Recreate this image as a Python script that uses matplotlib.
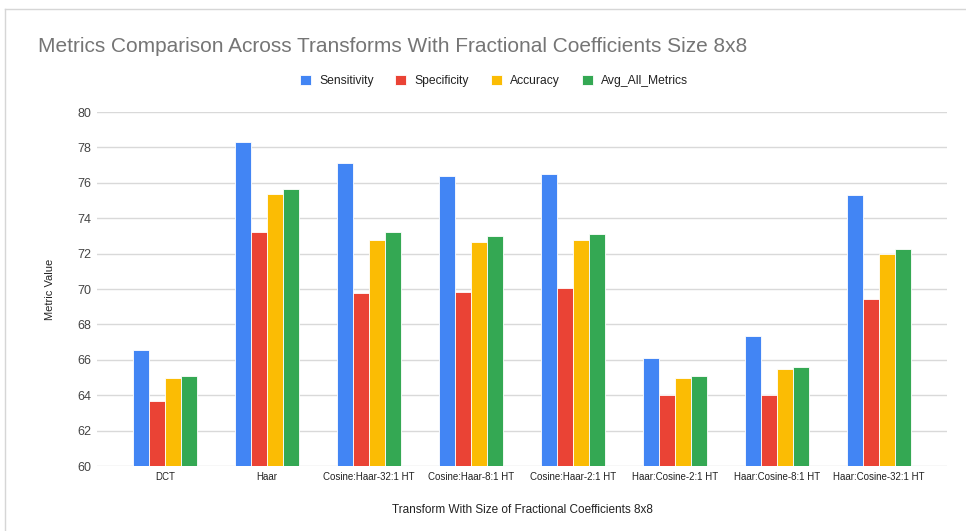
import matplotlib.pyplot as plt
import numpy as np
from matplotlib.lines import Line2D

plt.rcParams['font.family'] = ['Liberation Sans', 'DejaVu Sans']

transforms = ['DCT', 'Haar', 'Cosine:Haar-32:1 HT', 'Cosine:Haar-8:1 HT',
              'Cosine:Haar-2:1 HT', 'Haar:Cosine-2:1 HT', 'Haar:Cosine-8:1 HT',
              'Haar:Cosine-32:1 HT']
sensitivity = [66.53, 78.31, 77.14, 76.41, 76.52, 66.11, 67.36, 75.33]
specificity = [63.67, 73.23, 69.76, 69.86, 70.07, 63.99, 63.99, 69.44]
accuracy = [64.95, 75.39, 72.79, 72.64, 72.79, 64.95, 65.46, 72.00]
avg_all = [65.06, 75.65, 73.25, 73.00, 73.13, 65.06, 65.61, 72.27]

series = [('Sensitivity', sensitivity, '#4285F4'),
          ('Specificity', specificity, '#EA4335'),
          ('Accuracy', accuracy, '#FBBC04'),
          ('Avg_All_Metrics', avg_all, '#34A853')]

fig = plt.figure(figsize=(9.66, 5.31), dpi=100)
ax = fig.add_axes([0.1004, 0.1224, 0.8799, 0.6666])

x = np.arange(len(transforms))
w = 0.157
for i, (name, vals, col) in enumerate(series):
    ax.bar(x + (i - 1.5) * w, np.array(vals) - 60, w, bottom=60, color=col,
           edgecolor='white', linewidth=0.6, label=name, zorder=3)

ax.set_ylim(60, 80)
ax.set_xlim(-0.667, len(transforms) - 1 + 0.667)
ax.set_yticks(range(60, 81, 2))
ax.set_xticks(x)
ax.set_xticklabels(transforms, fontsize=7, color='#222222')
ax.tick_params(axis='y', labelsize=9, colors='#444444', length=0, pad=4)
ax.tick_params(axis='x', length=0, pad=4)
ax.grid(axis='y', color='#d9d9d9', linewidth=1, zorder=0)
for s in ax.spines.values():
    s.set_visible(False)

ax.set_ylabel('Metric Value', fontsize=8, color='#222222', labelpad=16)
ax.set_xlabel('Transform With Size of Fractional Coefficients 8x8', fontsize=8.5,
              color='#222222', labelpad=16)

fig.text(38 / 966, 1 - 47 / 531, 'Metrics Comparison Across Transforms With Fractional Coefficients Size 8x8',
         fontsize=15, color='#757575', va='center', ha='left')

handles, labels = ax.get_legend_handles_labels()
fig.legend(handles, labels, loc='center', bbox_to_anchor=(494 / 966, 1 - 81 / 531),
           ncol=4, frameon=False, fontsize=8.7, handlelength=0.9, handleheight=0.9,
           handletextpad=0.7, columnspacing=1.8, labelcolor='#222222')

# light frame lines from the screenshot
fig.add_artist(Line2D([5 / 966, 1], [1 - 9 / 531, 1 - 9 / 531], color='#d6d6d6', lw=1))
fig.add_artist(Line2D([5 / 966, 5 / 966], [0, 1 - 9 / 531], color='#d6d6d6', lw=1))

fig.savefig('out.png', dpi=100)
